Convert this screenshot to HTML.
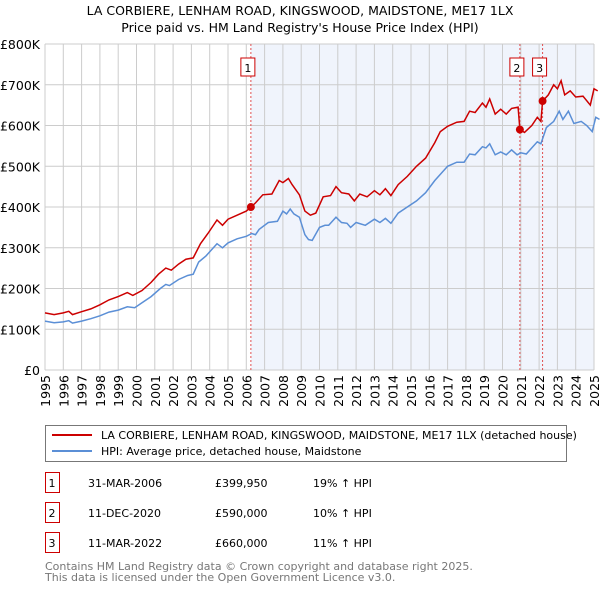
<!DOCTYPE html>
<html><head><meta charset="utf-8"><style>
body{margin:0;background:#fff;font-family:"Liberation Sans","DejaVu Sans",sans-serif;}
#wrap{position:relative;width:600px;height:590px;overflow:hidden}
svg text{font-family:"DejaVu Sans","Liberation Sans",sans-serif}
</style></head><body><div id="wrap">
<svg id="c" width="600" height="590"></svg>
</div>
<script>
const hpiX=[1995.0,1995.5,1996,1996.3,1996.5,1997,1997.5,1998,1998.5,1999,1999.5,1999.9,2000.3,2000.8,2001.3,2001.6,2001.8,2002.3,2002.8,2003.1,2003.4,2003.8,2004.4,2004.7,2005,2005.5,2006,2006.3,2006.5,2006.7,2007.2,2007.7,2008.0,2008.2,2008.4,2008.6,2008.9,2009.2,2009.4,2009.6,2010,2010.3,2010.5,2010.9,2011.2,2011.5,2011.7,2012,2012.5,2013,2013.3,2013.6,2013.9,2014.3,2014.8,2015.3,2015.8,2016.3,2016.6,2017,2017.5,2017.9,2018.2,2018.5,2018.9,2019.1,2019.3,2019.6,2019.9,2020.2,2020.5,2020.8,2021,2021.3,2021.6,2021.9,2022.1,2022.4,2022.8,2023.1,2023.3,2023.6,2023.9,2024.3,2024.6,2024.9,2025.1,2025.3];
const hpiV=[120,116,118,121,115,120,126,133,142,147,155,153,165,180,200,210,207,222,232,235,265,280,310,300,312,322,328,335,332,345,362,365,390,383,395,383,375,332,320,318,350,355,355,375,362,360,350,362,355,370,362,372,360,385,400,415,435,465,480,500,510,510,530,528,548,545,555,528,535,528,540,528,533,530,545,560,555,595,610,635,615,635,605,610,600,585,620,615];
const redX=[1995,1995.5,1996,1996.3,1996.5,1997,1997.5,1998,1998.5,1999,1999.5,1999.8,2000.3,2000.8,2001.2,2001.6,2001.9,2002.3,2002.7,2003.1,2003.5,2003.9,2004.4,2004.7,2005,2005.5,2006,2006.25,2006.5,2006.9,2007.4,2007.8,2008,2008.3,2008.5,2008.9,2009.2,2009.5,2009.8,2010.2,2010.6,2010.9,2011.2,2011.6,2011.9,2012.2,2012.6,2013,2013.3,2013.6,2013.9,2014.3,2014.8,2015.3,2015.8,2016.3,2016.6,2017,2017.5,2017.9,2018.2,2018.5,2018.9,2019.1,2019.3,2019.6,2019.9,2020.2,2020.5,2020.85,2020.95,2021.2,2021.6,2021.9,2022.1,2022.19,2022.5,2022.8,2023.0,2023.2,2023.4,2023.7,2024,2024.4,2024.8,2025.0,2025.2];
const redV=[140,136,140,144,136,143,150,160,172,180,190,183,195,215,235,250,245,260,272,275,310,335,368,355,370,380,390,400,410,430,432,465,460,470,455,430,390,380,385,425,428,450,435,432,415,432,425,440,430,445,428,455,475,500,520,558,585,598,608,610,635,632,655,645,665,628,640,628,642,645,590,583,600,620,610,660,675,700,690,710,675,685,670,672,650,690,685];
const saleX=[2006.25,2020.95,2022.19];
const saleV=[399950,590000,660000];
const saleLabel=["1","2","3"];
const yTicks=[0,100,200,300,400,500,600,700,800];
const yTickLabels=["£0","£100K","£200K","£300K","£400K","£500K","£600K","£700K","£800K"];
const years=[1995,1996,1997,1998,1999,2000,2001,2002,2003,2004,2005,2006,2007,2008,2009,2010,2011,2012,2013,2014,2015,2016,2017,2018,2019,2020,2021,2022,2023,2024,2025];
const rows=[["1","31-MAR-2006","£399,950","19% ↑ HPI"],["2","11-DEC-2020","£590,000","10% ↑ HPI"],["3","11-MAR-2022","£660,000","11% ↑ HPI"]];

const L=45,R=594,T=44,B=370;
const sx=v=>L+(v-1995)/30*(R-L);
const sy=v=>B-v/800*(B-T);
const svg=document.getElementById('c');const NS='http://www.w3.org/2000/svg';
function mk(t,a,p){const e=document.createElementNS(NS,t);for(const k in a)e.setAttribute(k,a[k]);(p||svg).appendChild(e);return e;}
function tx(x,y,s,a){const e=mk('text',Object.assign({x:x,y:y},a));e.textContent=s;return e;}
let t=tx(300,15,"LA CORBIERE, LENHAM ROAD, KINGSWOOD, MAIDSTONE, ME17 1LX",{'text-anchor':'middle','font-size':12.5,fill:'#000'});

t=tx(300,32,"Price paid vs. HM Land Registry's House Price Index (HPI)",{'text-anchor':'middle','font-size':12.5,fill:'#000'});

let sh=mk('rect',{x:sx(saleX[0]),y:T,width:R-sx(saleX[0]),height:B-T,fill:'#f0f4fc'});

const grid=mk('g',{stroke:'#cccccc','stroke-width':1});

years.forEach(y=>mk('line',{x1:sx(y),x2:sx(y),y1:T,y2:B},grid));
yTicks.forEach(v=>mk('line',{x1:L,x2:R,y1:sy(v),y2:sy(v)},grid));
yTicks.forEach((v,i)=>{const e=tx(L-5,sy(v)+5,yTickLabels[i],{'text-anchor':'end','font-size':12.5,fill:'#000'});
});
years.forEach(y=>{const e=tx(0,0,String(y),{'font-size':12.5,fill:'#000',transform:`translate(${sx(y)+5},${B+5}) rotate(-90)`,'text-anchor':'end'});
});
saleX.forEach((x,i)=>{const l=mk('line',{x1:sx(x),x2:sx(x),y1:T,y2:B,stroke:'#e05050','stroke-width':1,'stroke-dasharray':'2,2'});
});
function path(xs,vs,col,name){const d=xs.map((x,i)=>(i?'L':'M')+sx(x).toFixed(1)+','+sy(vs[i]).toFixed(1)).join('');
const p=mk('path',{d:d,fill:'none',stroke:col,'stroke-width':1.5});}
path(hpiX,hpiV,'#5b8fd6','hpi-line');
path(redX,redV,'#cc0000','price-paid-line');
saleX.forEach((x,i)=>{const c=mk('circle',{cx:sx(x),cy:sy(saleV[i]/1000),r:4,fill:'#cc0000'});

const g=mk('g',{});
const X=sx(x)-3;
mk('rect',{x:X-7,y:58,width:14,height:18,fill:'#fff',stroke:'#cc0000'},g);
tx(X,72,saleLabel[i],{'text-anchor':'middle','font-size':11,fill:'#000'},);});
// legend
const lg=mk('g',{});
mk('rect',{x:45.5,y:425.5,width:521,height:36,fill:'#fff',stroke:'#777'},lg);
mk('line',{x1:52,x2:92,y1:435,y2:435,stroke:'#cc0000','stroke-width':2},lg);
mk('line',{x1:52,x2:92,y1:451,y2:451,stroke:'#5b8fd6','stroke-width':2},lg);
let e=tx(101,439,"LA CORBIERE, LENHAM ROAD, KINGSWOOD, MAIDSTONE, ME17 1LX (detached house)",{'font-size':11,fill:'#000'});lg.appendChild(e);

e=tx(101,455,"HPI: Average price, detached house, Maidstone",{'font-size':11,fill:'#000'});lg.appendChild(e);

rows.forEach((r,i)=>{const y=483+i*30;const g=mk('g',{});
mk('rect',{x:45.5,y:y-10.5,width:14,height:20,fill:'#fff',stroke:'#cc0000'},g);
[[52,'middle'],[88,'start'],[215,'start'],[313,'start']].forEach((c,j)=>{const q=tx(c[0],y+4,r[j],{'font-size':11,fill:'#000','text-anchor':c[1]});g.appendChild(q);});});
e=tx(45,570,"Contains HM Land Registry data © Crown copyright and database right 2025.",{'font-size':11,fill:'#777'});

e=tx(45,581,"This data is licensed under the Open Government Licence v3.0.",{'font-size':11,fill:'#777'});

</script></body></html>
